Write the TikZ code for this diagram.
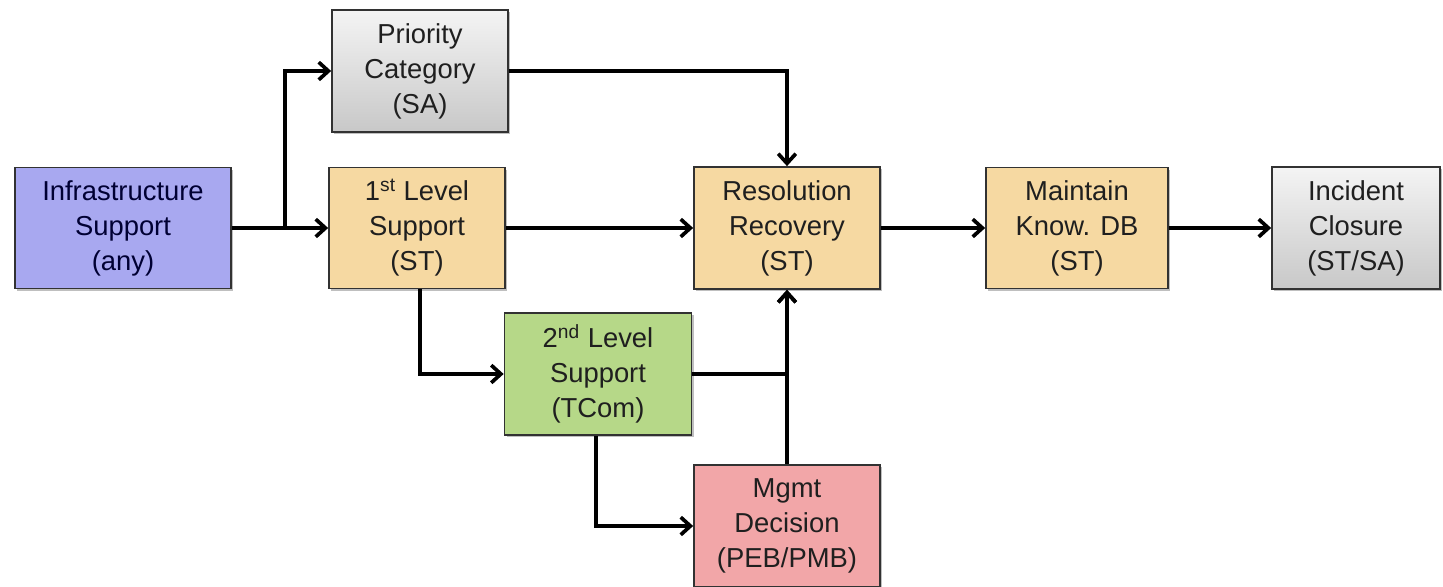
\documentclass[tikz,border=0pt]{standalone}
\usepackage{fontspec}
\setmainfont{Liberation Sans}
\usetikzlibrary{arrows.meta,shadows}
\definecolor{infra}{RGB}{168,168,240}
\definecolor{tan}{RGB}{246,217,162}
\definecolor{grn}{RGB}{182,216,136}
\definecolor{pnk}{RGB}{242,166,168}
\definecolor{grytop}{RGB}{244,244,244}
\definecolor{grybot}{RGB}{200,200,200}
\definecolor{bord}{RGB}{50,50,50}
\tikzset{
  box/.style={draw=bord, line width=1pt, align=center, inner sep=0pt,
    font=\fontsize{15.6}{19.9}\selectfont, text=black!88,
    drop shadow={shadow xshift=1.2pt, shadow yshift=-1.2pt, opacity=0.25, fill=black}},
  conn/.style={line width=2.1pt, black},
  arr/.style={conn, -{Straight Barb[length=5.5pt,width=10pt,line width=2.1pt]}},
}
\begin{document}
\begin{tikzpicture}[x=0.02cm,y=-0.02cm]
\useasboundingbox (0,0) rectangle (1443,587);
\node[box, fill=infra, minimum width=4.32cm, minimum height=2.42cm, text=black!80!blue] (infra) at (123,228) {Infrastructure\\Support\\(any)};
\node[box, top color=grytop, bottom color=grybot, minimum width=3.52cm, minimum height=2.44cm] (prio) at (420,71) {Priority\\Category\\(SA)};
\node[box, fill=tan, minimum width=3.52cm, minimum height=2.42cm] (first) at (417,228) {1\textsuperscript{st} Level\\Support\\(ST)};
\node[box, fill=tan, minimum width=3.72cm, minimum height=2.44cm] (res) at (787,228) {Resolution\\Recovery\\(ST)};
\node[box, fill=tan, minimum width=3.64cm, minimum height=2.42cm] (maint) at (1077,228) {Maintain\\Know. DB\\(ST)};
\node[box, top color=grytop, bottom color=grybot, minimum width=3.36cm, minimum height=2.44cm] (inc) at (1356,228) {Incident\\Closure\\(ST/SA)};
\node[box, fill=grn, minimum width=3.74cm, minimum height=2.44cm] (second) at (598,374) {2\textsuperscript{nd} Level\\Support\\(TCom)};
\node[box, fill=pnk, minimum width=3.72cm, minimum height=2.44cm] (mgmt) at (787,526) {Mgmt\\Decision\\(PEB/PMB)};
\coordinate (br) at (285,228);
\draw[arr] (infra.east) -- (first.west);
\draw[arr] (br) |- (prio.west);
\draw[arr] (prio.east) -| (res.north);
\draw[arr] (first.east) -- (res.west);
\draw[arr] (res.east) -- (maint.west);
\draw[arr] (maint.east) -- (inc.west);
\draw[arr] ([xshift=0.06cm]first.south) |- (second.west);
\draw[arr] (second.east) -| (res.south);
\draw[arr] (mgmt.north) -- (res.south);
\draw[arr] ([xshift=-0.04cm]second.south) |- (mgmt.west);
\end{tikzpicture}
\end{document}
